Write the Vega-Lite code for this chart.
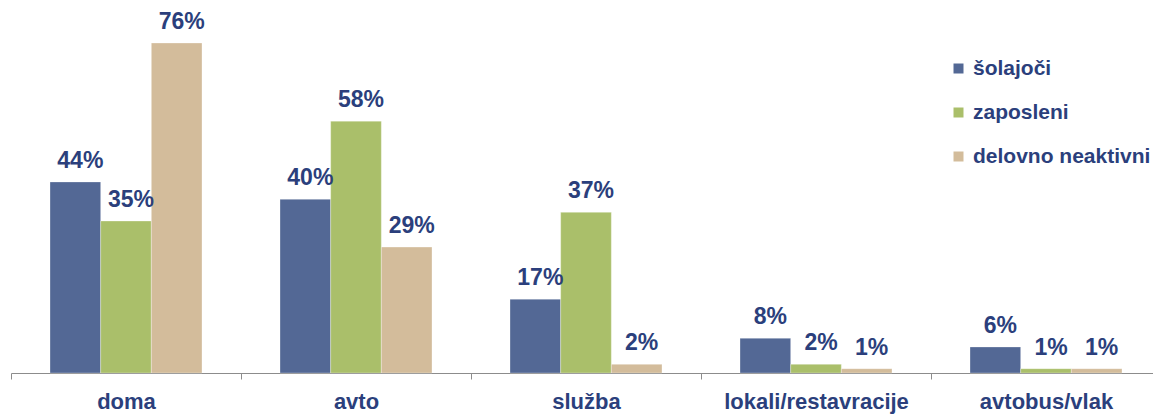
{
  "$schema": "https://vega.github.io/schema/vega-lite/v6.json",
  "autosize": {"type": "none"},
  "padding": {"left": 11, "top": 0, "right": 0, "bottom": 41},
  "width": 1142,
  "height": 373,
  "background": "white",
  "config": {"view": {"stroke": null}, "font": "Liberation Sans"},
  "data": {"values": [
    {"kraj": "doma", "skupina": "šolajoči", "v": 44, "oznaka": "44%"},
    {"kraj": "doma", "skupina": "zaposleni", "v": 35, "oznaka": "35%"},
    {"kraj": "doma", "skupina": "delovno neaktivni", "v": 76, "oznaka": "76%"},
    {"kraj": "avto", "skupina": "šolajoči", "v": 40, "oznaka": "40%"},
    {"kraj": "avto", "skupina": "zaposleni", "v": 58, "oznaka": "58%"},
    {"kraj": "avto", "skupina": "delovno neaktivni", "v": 29, "oznaka": "29%"},
    {"kraj": "služba", "skupina": "šolajoči", "v": 17, "oznaka": "17%"},
    {"kraj": "služba", "skupina": "zaposleni", "v": 37, "oznaka": "37%"},
    {"kraj": "služba", "skupina": "delovno neaktivni", "v": 2, "oznaka": "2%"},
    {"kraj": "lokali/restavracije", "skupina": "šolajoči", "v": 8, "oznaka": "8%"},
    {"kraj": "lokali/restavracije", "skupina": "zaposleni", "v": 2, "oznaka": "2%"},
    {"kraj": "lokali/restavracije", "skupina": "delovno neaktivni", "v": 1, "oznaka": "1%"},
    {"kraj": "avtobus/vlak", "skupina": "šolajoči", "v": 6, "oznaka": "6%"},
    {"kraj": "avtobus/vlak", "skupina": "zaposleni", "v": 1, "oznaka": "1%"},
    {"kraj": "avtobus/vlak", "skupina": "delovno neaktivni", "v": 1, "oznaka": "1%"}
  ]},
  "encoding": {
    "x": {
      "field": "kraj", "type": "nominal", "sort": null,
      "scale": {"range": [0, 1150], "paddingInner": 0, "paddingOuter": 0},
      "axis": {
        "title": null, "labelAngle": 0, "labelFontSize": 22, "labelFontWeight": "bold",
        "labelColor": "#2B3F7C", "labelBaseline": "alphabetic", "labelPadding": 29,
        "labelLimit": 0, "labelOverlap": false,
        "domainColor": "#8c8c8c", "tickColor": "#8c8c8c", "tickSize": 6,
        "tickBand": "extent", "grid": false
      }
    },
    "xOffset": {
      "field": "skupina", "type": "nominal", "sort": ["šolajoči", "zaposleni", "delovno neaktivni"],
      "scale": {"paddingInner": 0, "paddingOuter": 0.77}
    },
    "y": {
      "field": "v", "type": "quantitative",
      "scale": {"domain": [0, 85.9], "nice": false},
      "axis": null
    }
  },
  "layer": [
    {
      "mark": {"type": "bar", "stroke": "white", "strokeWidth": 0.5, "strokeOpacity": 0.6},
      "encoding": {
        "color": {
          "field": "skupina", "type": "nominal",
          "sort": ["šolajoči", "zaposleni", "delovno neaktivni"],
          "scale": {"domain": ["šolajoči", "zaposleni", "delovno neaktivni"], "range": ["#536895", "#AABF6A", "#D3BC9B"]},
          "legend": {
            "title": null, "orient": "none", "legendX": 937, "legendY": 58,
            "symbolType": "square", "symbolSize": 100, "symbolStrokeWidth": 0,
            "labelFontSize": 21, "labelFontWeight": "bold", "labelColor": "#2B3F7C",
            "labelLimit": 0, "rowPadding": 22, "labelOffset": 4, "padding": 0
          }
        }
      }
    },
    {
      "mark": {"type": "text", "fontSize": 23, "fontWeight": "bold", "color": "#2B3F7C", "baseline": "alphabetic", "dy": -14, "dx": 5},
      "encoding": {
        "text": {"field": "oznaka", "type": "nominal"},
        "detail": {"field": "skupina"}
      }
    }
  ]
}
